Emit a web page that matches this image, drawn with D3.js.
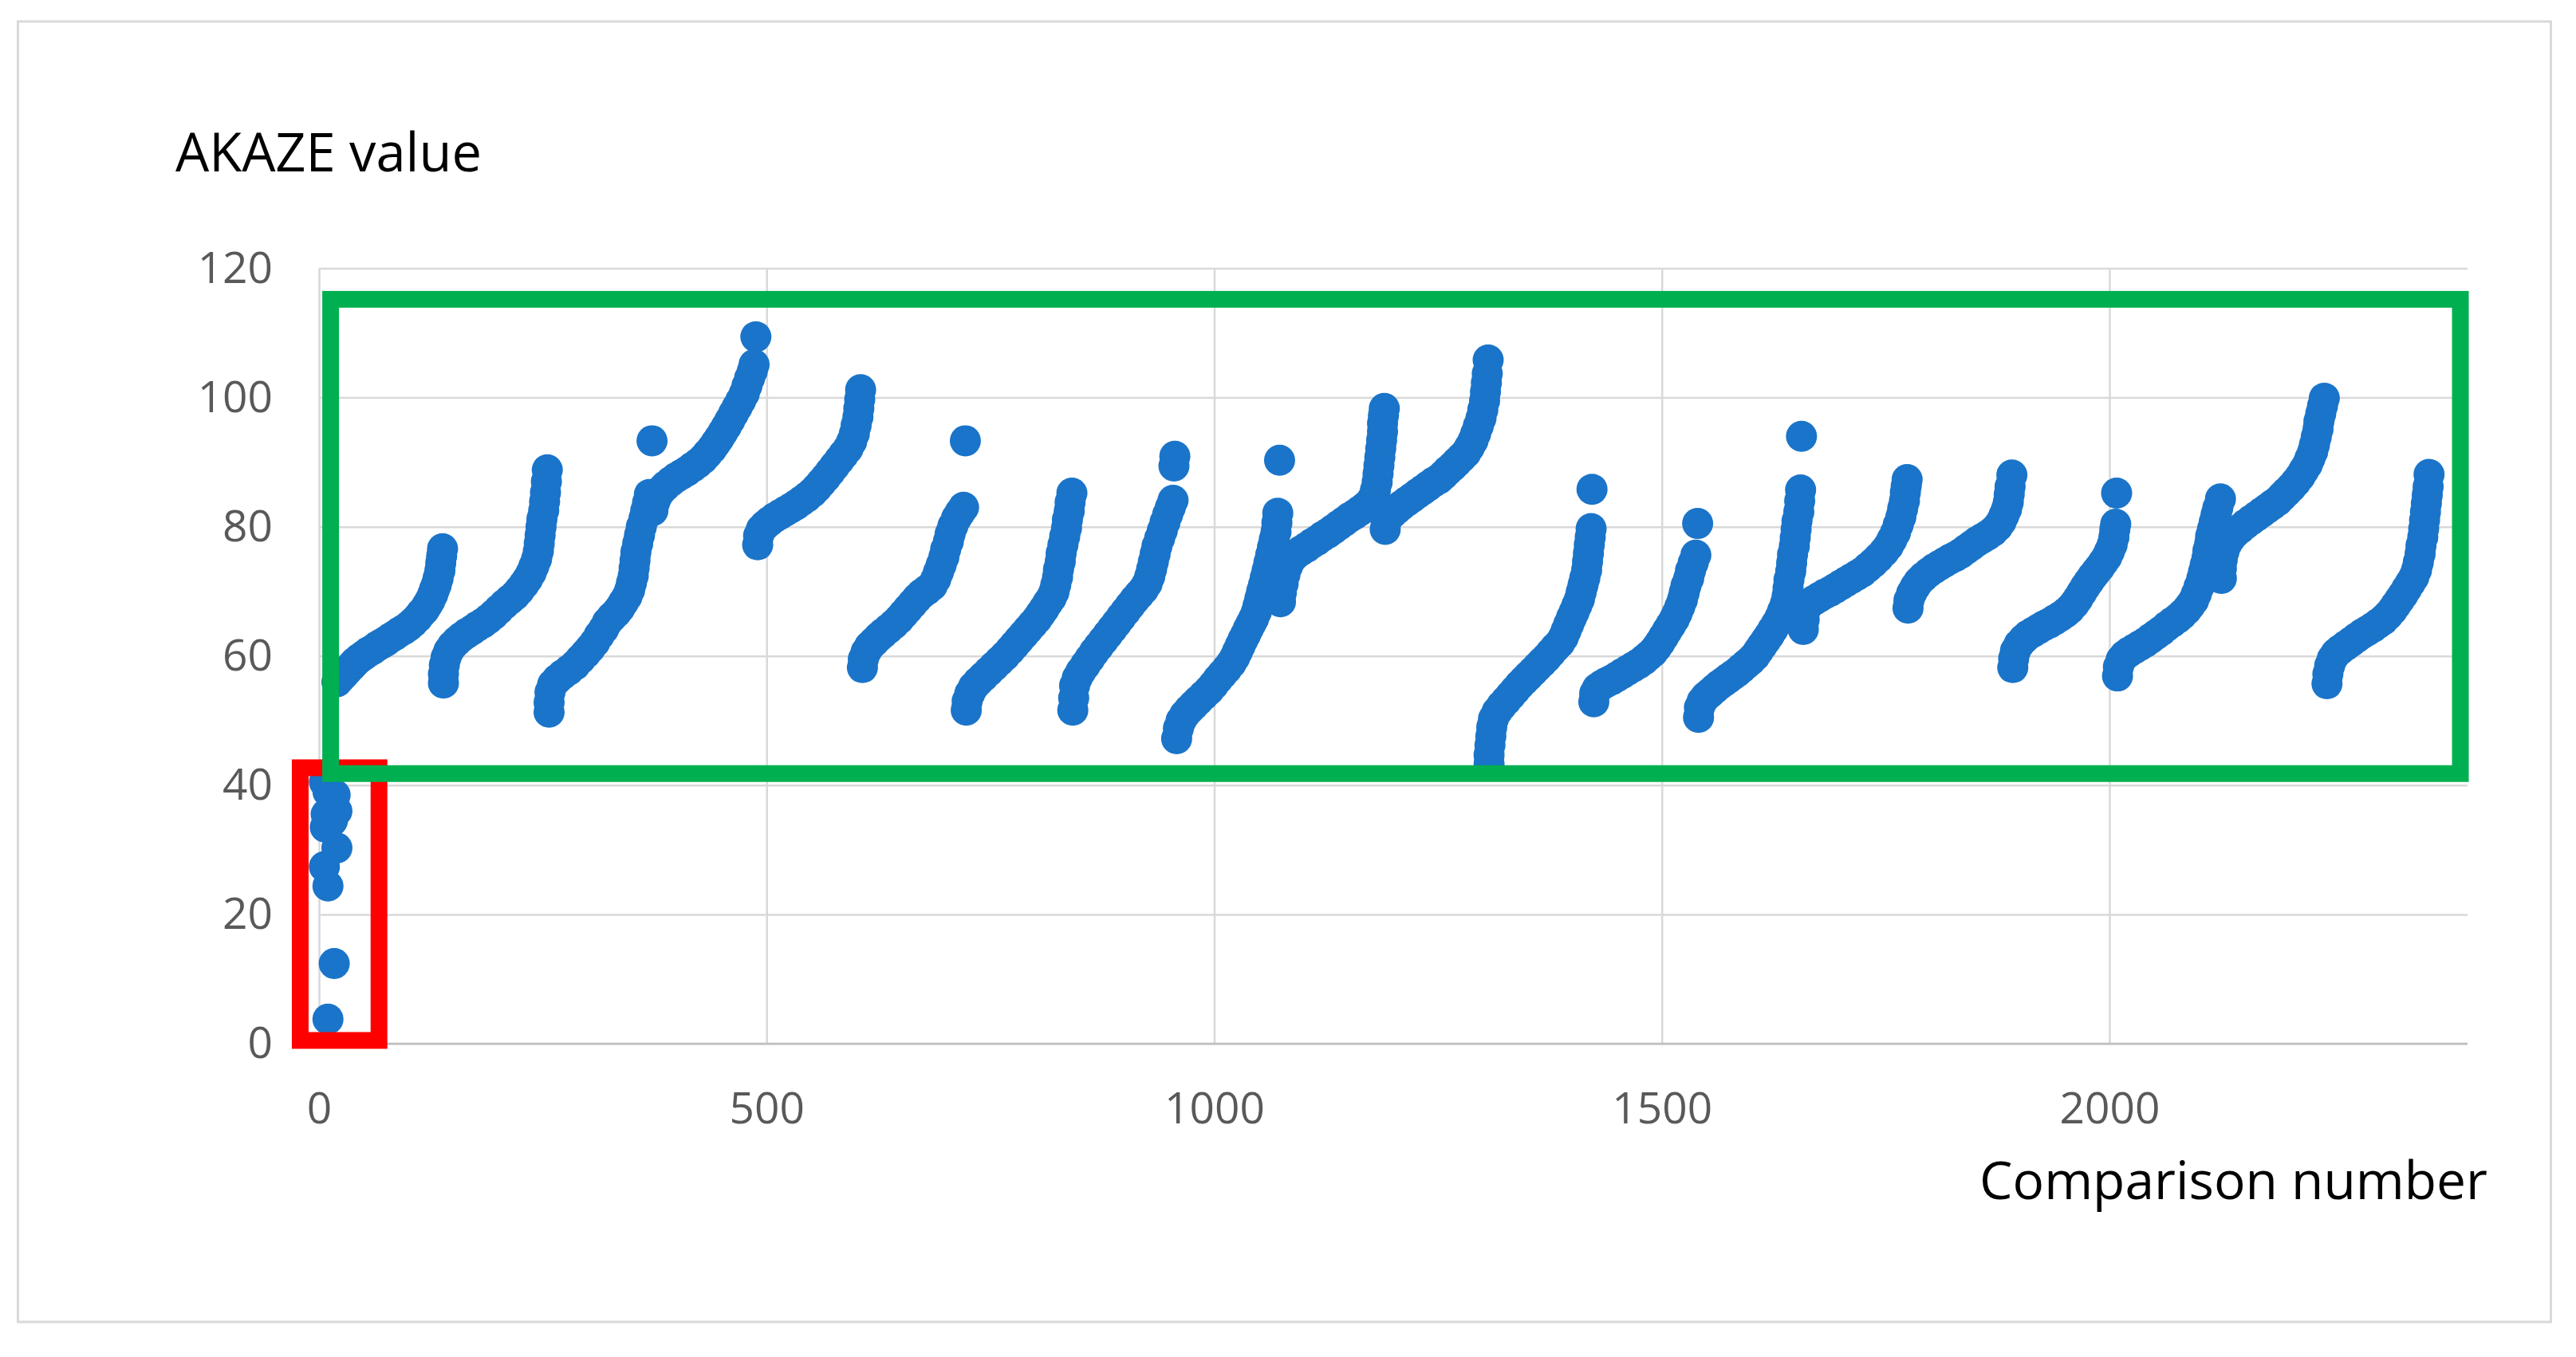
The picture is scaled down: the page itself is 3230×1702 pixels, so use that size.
<!DOCTYPE html>
<html>
<head>
<meta charset="utf-8">
<script src="https://cdn.jsdelivr.net/npm/d3@7"></script>
<style>
  html, body { margin: 0; padding: 0; background: #fff; }
  svg { display: block; }
</style>
</head>
<body>
<svg id="chart" width="3230" height="1702"></svg>
<script>
// ---------------- DATA (comparison number, AKAZE value) ----------------
const yTickValues = [0, 20, 40, 60, 80, 100, 120];
const xTickValues = [0, 500, 1000, 1500, 2000];
const yTitle = "AKAZE value";
const xTitle = "Comparison number";

const lowOutliers = [[6,40.5],[10,39.0],[18,38.5],[20,36.0],[8,35.5],[15,34.5],[7,33.5],[20,30.3],[6,27.4],[10,24.4],[17,12.4],[10,3.8]];

const run01 = [[20,56.0],[24,56.6],[28,57.2],[32,57.8],[36,58.4],[40,59.0],[45,59.6],[50,60.1],[55,60.6],[60,61.0],[65,61.5],[70,61.9],[75,62.3],[80,62.8],[85,63.2],[90,63.7],[95,64.1],[100,64.6],[105,65.2],[110,65.9],[114,66.6],[118,67.2],[121,67.9],[124,68.6],[127,69.5],[129,70.3],[131,71.0],[133,72.0],[135,73.2],[136,74.4],[137,75.5],[138,76.6]];
const run02 = [[139,55.8],[139,57.2],[140,58.6],[142,59.8],[145,60.8],[149,61.6],[154,62.3],[159,62.9],[165,63.5],[171,64.0],[177,64.6],[183,65.1],[189,65.7],[195,66.4],[201,67.2],[207,68.0],[213,68.7],[219,69.4],[224,70.2],[229,71.1],[233,71.9],[237,72.9],[240,73.9],[243,75.0],[245,76.2],[246,77.4],[247,78.7],[248,80.0],[249,81.2],[251,82.5],[252,83.9],[253,85.3],[254,87.0],[255,88.8]];
const run03 = [[257,51.3],[257,52.8],[258,54.4],[261,55.6],[266,56.4],[272,57.1],[279,57.8],[286,58.6],[292,59.5],[298,60.4],[303,61.2],[308,62.1],[313,63.2],[318,64.2],[322,65.2],[327,66.0],[332,66.7],[336,67.4],[340,68.3],[344,69.2],[347,70.2],[349,71.3],[351,72.4],[352,73.6],[353,74.8],[354,76.1],[356,77.4],[358,78.7],[360,80.0],[363,81.3],[365,82.5],[367,83.7],[369,85.0],[372,93.3]];
const run04 = [[373,82.5],[375,83.8],[378,84.8],[382,85.6],[387,86.3],[393,87.0],[399,87.6],[405,88.1],[411,88.6],[417,89.2],[423,89.8],[429,90.5],[434,91.3],[439,92.1],[443,92.9],[447,93.7],[451,94.6],[455,95.5],[459,96.5],[463,97.5],[467,98.5],[471,99.5],[475,100.6],[478,101.8],[481,103.0],[484,104.1],[486,105.1],[488,109.4]];
const run05 = [[490,77.2],[491,78.6],[494,79.6],[498,80.2],[503,80.8],[509,81.4],[515,81.9],[521,82.4],[527,82.9],[533,83.4],[539,84.0],[545,84.6],[551,85.3],[556,86.0],[561,86.8],[566,87.6],[571,88.5],[576,89.4],[581,90.3],[586,91.2],[591,92.1],[595,93.2],[598,94.4],[600,95.7],[602,97.0],[603,98.3],[604,99.7],[605,101.2]];
const run06 = [[607,58.2],[608,59.5],[611,60.6],[615,61.5],[620,62.2],[625,62.9],[630,63.5],[636,64.2],[642,64.9],[648,65.7],[653,66.5],[658,67.3],[663,68.1],[668,68.9],[673,69.6],[679,70.2],[685,70.9],[689,71.9],[692,73.0],[695,74.1],[698,75.3],[700,76.5],[703,77.7],[705,78.9],[708,80.1],[712,81.3],[716,82.2],[720,83.0],[722,93.3]];
const run07 = [[723,51.6],[724,53.0],[727,54.2],[731,55.2],[736,56.0],[742,56.8],[748,57.6],[754,58.4],[760,59.2],[766,60.0],[772,60.9],[777,61.7],[782,62.5],[787,63.3],[792,64.1],[797,64.9],[802,65.7],[806,66.5],[810,67.3],[814,68.2],[818,69.0],[821,69.9],[823,71.0],[825,72.2],[826,73.4],[828,74.6],[829,75.9],[831,77.2],[833,78.5],[835,79.8],[836,81.1],[838,82.4],[839,83.8],[841,85.2]];
const run08 = [[842,51.6],[843,53.5],[844,55.4],[847,56.6],[851,57.6],[856,58.6],[861,59.6],[866,60.6],[871,61.5],[876,62.4],[881,63.3],[886,64.2],[891,65.1],[896,66.0],[901,66.9],[906,67.8],[911,68.7],[916,69.5],[921,70.3],[925,71.2],[928,72.3],[930,73.4],[932,74.6],[934,75.8],[936,77.0],[939,78.2],[942,79.4],[945,80.7],[948,81.9],[951,83.0],[954,84.1],[955,89.4],[956,90.9]];
const run09 = [[958,47.2],[960,48.8],[963,50.0],[967,50.9],[972,51.7],[977,52.4],[982,53.1],[988,53.9],[994,54.7],[999,55.5],[1004,56.4],[1009,57.2],[1014,58.0],[1019,58.9],[1023,59.8],[1026,60.7],[1029,61.6],[1032,62.5],[1035,63.3],[1038,64.2],[1041,65.0],[1044,65.8],[1047,66.8],[1049,67.8],[1051,68.9],[1053,70.0],[1055,71.0],[1057,72.1],[1059,73.2],[1061,74.4],[1063,75.6],[1065,76.8],[1067,78.0],[1069,79.2],[1070,80.6],[1071,82.1],[1073,90.3]];
const run10 = [[1074,68.4],[1075,69.8],[1077,71.2],[1079,72.6],[1082,73.9],[1086,75.0],[1091,75.7],[1097,76.3],[1103,76.8],[1109,77.4],[1115,77.9],[1121,78.5],[1127,79.0],[1133,79.6],[1139,80.2],[1145,80.8],[1151,81.4],[1157,81.9],[1163,82.5],[1168,83.0],[1173,83.6],[1177,84.4],[1180,85.6],[1182,86.9],[1183,88.2],[1184,89.5],[1185,90.8],[1186,92.1],[1187,93.4],[1188,94.7],[1188,96.0],[1189,97.2],[1190,98.3]];
const run11 = [[1191,79.6],[1192,80.8],[1195,81.6],[1199,82.1],[1204,82.7],[1209,83.3],[1215,83.9],[1221,84.5],[1227,85.1],[1233,85.7],[1239,86.3],[1245,86.9],[1251,87.4],[1256,88.0],[1261,88.7],[1266,89.3],[1271,90.0],[1276,90.7],[1281,91.4],[1285,92.3],[1289,93.3],[1292,94.4],[1295,95.6],[1298,96.8],[1300,98.1],[1302,99.5],[1303,100.9],[1304,102.3],[1305,103.7],[1306,105.8]];
const run12 = [[1307,43.3],[1307,44.7],[1308,46.2],[1309,47.6],[1310,49.0],[1312,50.3],[1316,51.4],[1321,52.3],[1326,53.1],[1331,53.9],[1336,54.7],[1341,55.5],[1346,56.2],[1351,56.9],[1356,57.6],[1361,58.3],[1366,59.0],[1371,59.7],[1376,60.5],[1381,61.3],[1386,62.0],[1390,62.9],[1393,63.9],[1396,64.9],[1399,65.9],[1402,66.8],[1405,67.8],[1408,68.8],[1410,69.9],[1412,71.0],[1414,72.1],[1416,73.3],[1417,74.6],[1418,75.9],[1419,77.2],[1420,78.4],[1421,79.7],[1422,85.8]];
const run13 = [[1424,52.9],[1425,54.2],[1428,55.0],[1433,55.5],[1438,55.9],[1444,56.3],[1450,56.8],[1456,57.3],[1462,57.8],[1468,58.3],[1474,58.8],[1480,59.4],[1485,60.0],[1490,60.6],[1494,61.3],[1498,62.1],[1502,63.0],[1506,63.9],[1510,64.8],[1514,65.7],[1517,66.6],[1520,67.6],[1523,68.7],[1525,69.8],[1527,70.9],[1530,72.0],[1532,73.2],[1535,74.4],[1538,75.6],[1540,80.5]];
const run14 = [[1541,50.5],[1542,52.0],[1545,53.0],[1549,53.7],[1554,54.3],[1559,54.9],[1564,55.5],[1569,56.0],[1574,56.5],[1579,57.0],[1584,57.5],[1589,58.1],[1594,58.7],[1599,59.3],[1604,60.0],[1608,60.8],[1612,61.6],[1616,62.4],[1620,63.2],[1624,64.1],[1628,65.0],[1632,66.0],[1635,67.0],[1638,68.1],[1640,69.3],[1641,70.5],[1642,71.8],[1644,73.1],[1645,74.4],[1646,75.7],[1648,77.0],[1649,78.3],[1650,79.6],[1651,80.9],[1653,82.3],[1654,84.0],[1655,85.7],[1656,94.0]];
const run15 = [[1658,64.1],[1659,65.6],[1660,67.1],[1664,68.0],[1670,68.6],[1676,69.1],[1682,69.6],[1688,70.0],[1694,70.5],[1700,71.0],[1706,71.5],[1712,72.0],[1718,72.5],[1724,73.0],[1730,73.7],[1736,74.4],[1742,75.2],[1748,76.1],[1753,77.0],[1757,78.0],[1761,79.1],[1764,80.3],[1767,81.5],[1769,82.8],[1771,84.0],[1772,85.3],[1773,86.3],[1774,87.3]];
const run16 = [[1775,67.4],[1776,68.6],[1779,69.7],[1783,70.7],[1787,71.5],[1792,72.2],[1798,72.9],[1804,73.5],[1810,74.0],[1816,74.5],[1822,75.0],[1828,75.4],[1834,75.9],[1840,76.5],[1846,77.1],[1852,77.7],[1858,78.2],[1864,78.7],[1870,79.3],[1875,80.0],[1879,80.8],[1882,81.7],[1885,82.7],[1887,83.8],[1888,85.0],[1889,86.2],[1891,88.0]];
const run17 = [[1892,58.2],[1893,59.6],[1895,60.8],[1899,61.8],[1904,62.6],[1909,63.2],[1915,63.7],[1921,64.2],[1927,64.7],[1933,65.1],[1939,65.6],[1945,66.1],[1951,66.7],[1956,67.3],[1961,68.1],[1965,68.9],[1969,69.8],[1973,70.7],[1977,71.5],[1981,72.3],[1985,73.0],[1989,73.7],[1993,74.5],[1997,75.3],[2000,76.2],[2003,77.2],[2005,78.4],[2006,79.6],[2007,80.4],[2008,85.2]];
const run18 = [[2009,56.9],[2010,58.3],[2013,59.4],[2017,60.1],[2022,60.6],[2028,61.1],[2034,61.6],[2040,62.1],[2046,62.7],[2052,63.3],[2058,63.9],[2064,64.6],[2070,65.2],[2076,65.8],[2081,66.4],[2086,67.1],[2090,67.8],[2094,68.6],[2097,69.6],[2100,70.7],[2103,71.9],[2105,73.0],[2107,74.1],[2109,75.2],[2110,76.3],[2112,77.4],[2113,78.5],[2115,79.6],[2117,80.7],[2119,81.8],[2121,82.9],[2124,84.3]];
const run19 = [[2125,72.0],[2125,73.5],[2126,74.9],[2128,76.2],[2131,77.3],[2135,78.2],[2140,79.0],[2146,79.7],[2152,80.4],[2158,81.0],[2164,81.6],[2170,82.2],[2176,82.8],[2182,83.4],[2188,84.0],[2193,84.7],[2198,85.4],[2203,86.1],[2208,86.9],[2213,87.8],[2217,88.7],[2221,89.6],[2224,90.6],[2227,91.6],[2229,92.7],[2231,93.9],[2233,95.1],[2234,96.3],[2236,97.5],[2238,98.7],[2240,99.9]];
const run20 = [[2243,55.7],[2244,57.2],[2246,58.5],[2249,59.6],[2253,60.4],[2258,61.0],[2264,61.6],[2270,62.2],[2276,62.8],[2282,63.4],[2288,63.9],[2294,64.4],[2300,65.0],[2306,65.6],[2311,66.3],[2316,67.1],[2320,67.9],[2324,68.7],[2328,69.5],[2332,70.4],[2336,71.3],[2340,72.2],[2343,73.3],[2345,74.5],[2347,75.8],[2348,77.1],[2350,78.4],[2351,79.7],[2352,81.0],[2353,82.3],[2354,83.6],[2355,84.9],[2356,86.2],[2357,88.1]];

// highlight boxes, in data units [x0, x1, y0, y1]
const redBox = [-21, 67, 0.5, 42.7];
const greenBox = [13, 2392, 41.8, 115.2];

// ---------------- DRAWING ----------------
const runs = [lowOutliers, run01, run02, run03, run04, run05, run06, run07, run08, run09, run10,
              run11, run12, run13, run14, run15, run16, run17, run18, run19, run20];
const points = runs.flat();

const svg = d3.select("#chart");
const FONT = "'Open Sans', 'Noto Sans', sans-serif";
const plotL = 400, plotR = 3094, plotT = 336.5, plotB = 1309;

const x = d3.scaleLinear().domain([0, 2400]).range([plotL, plotR]);
const y = d3.scaleLinear().domain([0, 120]).range([plotB, plotT]);

// outer chart frame
svg.append("rect")
  .attr("x", 22.5).attr("y", 27).attr("width", 3176).attr("height", 1631)
  .attr("fill", "#fff").attr("stroke", "#d9d9d9").attr("stroke-width", 3);

// y axis + horizontal gridlines
const gy = svg.append("g").attr("transform", `translate(${plotL},0)`)
  .call(d3.axisLeft(y).tickValues(yTickValues).tickFormat(d3.format("d"))
    .tickSize(-(plotR - plotL)).tickPadding(58));
gy.select(".domain").remove();
gy.selectAll(".tick line").attr("stroke", "#d9d9d9").attr("stroke-width", 2.5);
gy.selectAll(".tick text").attr("font-family", FONT).attr("font-size", 55).attr("fill", "#595959");

// x axis + vertical gridlines
const gx = svg.append("g").attr("transform", `translate(0,${plotB})`)
  .call(d3.axisBottom(x).tickValues(xTickValues).tickFormat(d3.format("d"))
    .tickSize(-(plotB - plotT)).tickPadding(61));
gx.select(".domain").remove();
gx.selectAll(".tick line").attr("stroke", "#d9d9d9").attr("stroke-width", 2.5);
gx.selectAll(".tick text").attr("font-family", FONT).attr("font-size", 55).attr("fill", "#595959");

// horizontal axis line
svg.append("line")
  .attr("x1", x(0)).attr("x2", x(2400)).attr("y1", y(0)).attr("y2", y(0))
  .attr("stroke", "#bfbfbf").attr("stroke-width", 2.5);

// markers
svg.append("g").selectAll("circle").data(points).join("circle")
  .attr("cx", d => x(d[0])).attr("cy", d => y(d[1]))
  .attr("r", 19.5).attr("fill", "#1a74c9");

// highlight boxes
function box(b, color) {
  svg.append("rect")
    .attr("x", x(b[0])).attr("y", y(b[3]))
    .attr("width", x(b[1]) - x(b[0])).attr("height", y(b[2]) - y(b[3]))
    .attr("fill", "none").attr("stroke", color).attr("stroke-width", 21);
}
box(redBox, "#ff0000");
box(greenBox, "#00b050");

// axis titles
function fitWidth(sel, target) {
  const w = sel.node().getComputedTextLength();
  const fs = parseFloat(sel.attr("font-size"));
  if (w > 0) sel.attr("font-size", fs * target / w);
}
const t1 = svg.append("text").text(yTitle)
  .attr("x", 220).attr("y", 192).attr("dy", "0.35em")
  .attr("font-family", FONT).attr("font-size", 64).attr("fill", "#000");
fitWidth(t1, 384);
const t2 = svg.append("text").text(xTitle)
  .attr("x", 3119).attr("y", 1481).attr("dy", "0.35em").attr("text-anchor", "end")
  .attr("font-family", FONT).attr("font-size", 64).attr("fill", "#000");
fitWidth(t2, 637);
</script>
</body>
</html>
